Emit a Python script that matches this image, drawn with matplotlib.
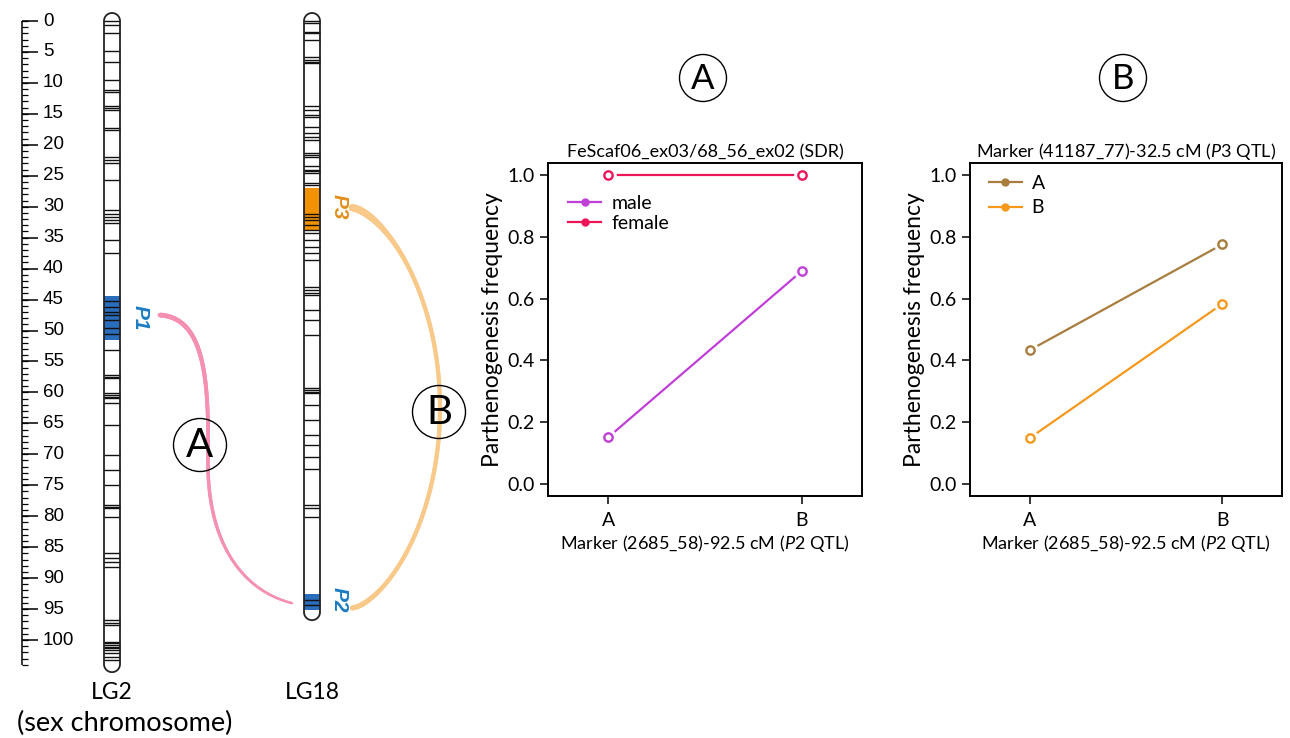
import numpy as np
import matplotlib
matplotlib.use("Agg")
import matplotlib.pyplot as plt
from matplotlib import patches
from matplotlib.collections import LineCollection
from matplotlib.lines import Line2D
from matplotlib.ticker import FormatStrFormatter

plt.rcParams['font.family'] = ['Lato', 'DejaVu Sans']
plt.rcParams['mathtext.fontset'] = 'custom'
plt.rcParams['mathtext.rm'] = 'Lato'
plt.rcParams['mathtext.it'] = 'Lato:italic'

# ---------------- data ----------------
lg2_markers = [0, 0.65, 2.0, 4.85, 6.57, 9.53, 11.15, 11.4, 13.8, 14.1, 14.4, 17.3, 17.6,
               21.9, 22.5, 23.0, 25.7, 30.5, 31.1, 31.6, 32.1, 32.7, 35.4, 37.4,
               45.3, 46.2, 47.0, 47.5, 48.3, 49.6, 50.5, 53.2,
               57.2, 57.5, 57.7, 60.1, 60.4, 60.7, 60.9, 61.7, 65.3, 70.1, 72.5, 75.0,
               78.2, 78.5, 78.7, 80.1, 86.0, 86.8, 87.4, 88.2, 96.8, 97.3, 97.6,
               100.3, 100.5, 100.8, 101.1, 101.3, 101.6, 102.1, 102.7, 103.2]
lg2_length = 103.9
lg2_p1 = (44.5, 51.5)

lg18_markers = [0, 0.38, 1.7, 2.0, 3.07, 5.77, 6.3, 6.57, 6.8, 13.8, 14.4, 15.2, 15.5,
                17.1, 18.1, 18.7, 19.2, 21.4, 21.6, 21.9, 23.5, 24.1, 24.3, 24.6, 26.2, 26.5,
                31.1, 31.6, 32.1, 33.0, 33.8, 34.3, 35.4, 36.5, 37.5, 38.6,
                42.9, 43.5, 44.0, 44.3, 46.7, 48.3, 50.7,
                59.3, 59.6, 59.9, 60.1, 62.0, 64.5, 66.9, 68.5, 70.4, 72.3,
                78.2, 78.7, 80.1, 93.5, 94.3]
lg18_length = 95.5
lg18_p3 = (27.0, 34.0)
lg18_p2 = (92.5, 95.2)

ruler_max = 104
ruler_labels = list(range(0, 101, 5))

genotypes = ["A", "B"]
male = [0.15, 0.69]
female = [1.0, 1.0]
p3_A = [0.433, 0.776]
p3_B = [0.148, 0.583]

# ---------------- colours ----------------
BLUE_FILL = '#2A6DBA'
ORANGE_FILL = '#F39200'
BLUE_TXT = '#1B7CC2'
ORANGE_TXT = '#E38F1E'
PINK = '#F590B3'
LORANGE = '#F9C98A'
C_MALE = '#C03FD6'
C_FEMALE = '#EE145A'
C_A = '#A87D3E'
C_B = '#F5981C'

W, H = 1290, 738
fig = plt.figure(figsize=(W / 100, H / 100), dpi=100)

# overlay (pixel coords) for top circles
axo = fig.add_axes([0, 0, 1, 1])
axo.set_xlim(0, W)
axo.set_ylim(H, 0)
axo.axis('off')

# chromosome axes: x in pixels, y in cM
PXCM = 6.19
Y0 = 21
axc = fig.add_axes([0, 0, 470 / W, 1])
axc.set_xlim(0, 470)
axc.set_ylim((H - Y0) / PXCM, -Y0 / PXCM)
axc.axis('off')

def cm(ypx):
    return (ypx - Y0) / PXCM

# ruler
axc.vlines(22, 0, ruler_max, color='black', lw=1.1)
axc.hlines(np.arange(0, ruler_max + 1), 22, 28, color='black', lw=0.9)
axc.hlines(ruler_labels, 22, 38, color='black', lw=1.1)
for v in ruler_labels:
    axc.text(43, v, str(v), ha='left', va='center', fontsize=13.5,
             family='Liberation Sans')

def chromosome(xc, length, markers, regions, w=16):
    r = w / 2
    hc = r / PXCM
    t = np.linspace(np.pi, 0, 40)
    pts = [(xc - r, 0), (xc - r, length)]
    pts += list(zip(xc + r * np.cos(t), length + hc * np.sin(t)))
    pts += [(xc + r, length), (xc + r, 0)]
    t2 = np.linspace(0, np.pi, 40)
    pts += list(zip(xc + r * np.cos(t2), -hc * np.sin(t2)))
    axc.add_patch(patches.Polygon(pts, closed=True, fc='white', ec='none', zorder=1))
    for (a, b), col in regions:
        axc.add_patch(patches.Rectangle((xc - r, a), w, b - a, fc=col, ec='none', zorder=2))
    axc.hlines(markers, xc - r, xc + r, color='#111111', lw=1.0, zorder=3)
    axc.add_patch(patches.Polygon(pts, closed=True, fill=False, ec='#222222', lw=1.3, zorder=4))

chromosome(112, lg2_length, lg2_markers, [(lg2_p1, BLUE_FILL)])
chromosome(312, lg18_length, lg18_markers, [(lg18_p3, ORANGE_FILL), (lg18_p2, BLUE_FILL)])

qkw = dict(rotation=-90, fontweight='bold', style='italic', ha='center', va='center',
           fontsize=15, family='Liberation Sans')
axc.text(140, np.mean(lg2_p1), 'P1', color=BLUE_TXT, **qkw)
axc.text(339, np.mean(lg18_p3) - 0.5, 'P3', color=ORANGE_TXT, **qkw)
axc.text(339, np.mean(lg18_p2) - 0.4, 'P2', color=BLUE_TXT, **qkw)

axc.text(112, cm(692), 'LG2', ha='center', va='center', fontsize=16.5)
axc.text(125, cm(723), '(sex chromosome)', ha='center', va='center', fontsize=19.5)
axc.text(312, cm(692), 'LG18', ha='center', va='center', fontsize=16.5)

def bezier(p0, p1, p2, p3, n=120):
    t = np.linspace(0, 1, n)[:, None]
    p0, p1, p2, p3 = map(np.array, (p0, p1, p2, p3))
    return (1 - t) ** 3 * p0 + 3 * (1 - t) ** 2 * t * p1 + 3 * (1 - t) * t ** 2 * p2 + t ** 3 * p3

def tapered(pts, widths_px, color):
    segs = np.stack([pts[:-1], pts[1:]], axis=1)
    lw = np.asarray(widths_px) / 1.389
    lc = LineCollection(segs, colors=color, linewidths=lw, capstyle='round', zorder=0.5)
    axc.add_collection(lc)

# pink link P1 -> P2
p1m = np.mean(lg2_p1) - 0.5
p2m = np.mean(lg18_p2) + 0.2
up = bezier((160, p1m), (205, p1m + 0.5), (209, 58.0), (208, 70.9))
lo = bezier((208, 70.9), (207, 83.8), (240, 91.9), (292, p2m))
pk = np.vstack([up, lo[1:]])
tt = np.linspace(0, 1, len(pk) - 1)
tapered(pk, 4.8 - 2.4 * tt, PINK)

# light orange link P3 -> P2
th = np.linspace(-np.pi / 2, np.pi / 2, 240)
cy = 62.5
by = cm(608) - cy
ox = 352 + 88 * np.cos(th) ** 1.3
oy = cy + by * np.sin(th)
op = np.column_stack([ox, oy])
tt = np.linspace(0, 1, len(op) - 1)
wo = 4.2 + 3.0 * np.exp(-((tt - 0.04) / 0.12) ** 2) + 0.8 * np.exp(-((tt - 0.95) / 0.08) ** 2)
tapered(op, wo, LORANGE)

# circle labels on the map
for (cx, cyp, lab) in [(200, 445, 'A'), (439, 412, 'B')]:
    axc.add_patch(patches.Ellipse((cx, cm(cyp)), 53, 53 / PXCM, fc='none', ec='black',
                                  lw=1.0, zorder=5))
    axc.text(cx, cm(cyp), lab, ha='center', va='center', fontsize=29, zorder=6)

# top circles
for (cx, cyp, lab) in [(703, 78, 'A'), (1123, 78, 'B')]:
    axo.add_patch(patches.Circle((cx, cyp), 23.5, fc='none', ec='black', lw=1.0))
    axo.text(cx, cyp + 1, lab, ha='center', va='center', fontsize=25)

# ---------------- interaction plots ----------------
def make_ax(left, right, top=163, bottom=496):
    return fig.add_axes([left / W, 1 - bottom / H, (right - left) / W, (bottom - top) / H])

xs = [1, 2]

def series(ax, y, color, label):
    ax.plot(xs, y, color=color, lw=1.6, zorder=2)
    ax.plot(xs, y, ls='none', marker='o', ms=12, mfc='white', mec='none', zorder=3)
    ax.plot(xs, y, ls='none', marker='o', ms=6, mfc='white', mec=color, mew=1.7, zorder=4)
    return Line2D([], [], color=color, lw=1.6, marker='o', ms=5, mfc=color, mec=color,
                  label=label)

def style(ax, title):
    ax.set_xlim(0.69, 2.31)
    ax.set_ylim(-0.04, 1.04)
    ax.set_xticks(xs, genotypes)
    ax.set_yticks(np.arange(0, 1.01, 0.2))
    ax.yaxis.set_major_formatter(FormatStrFormatter('%.1f'))
    ax.tick_params(direction='out', length=5.5, width=1.1, labelsize=14, pad=4)
    ax.tick_params(axis='x', pad=6)
    for s in ax.spines.values():
        s.set_linewidth(1.4)
    ax.set_title(title, fontsize=13, pad=4)
    ax.set_xlabel(r'Marker (2685_58)-92.5 cM ($\mathit{P2}$ QTL)', fontsize=13, labelpad=3)
    ax.set_ylabel('Parthenogenesis frequency', fontsize=16.5, labelpad=3)

lkw = dict(loc='upper left', frameon=False, fontsize=14, handlelength=1.7,
           handletextpad=0.5, borderpad=0, borderaxespad=0)

ax1 = make_ax(548, 862)
h1 = series(ax1, male, C_MALE, 'male')
h2 = series(ax1, female, C_FEMALE, 'female')
style(ax1, 'FeScaf06_ex03/68_56_ex02 (SDR)')
ax1.legend(handles=[h1, h2], bbox_to_anchor=(0.065, 0.905), labelspacing=0.15, **lkw)

ax2 = make_ax(970, 1282)
h3 = series(ax2, p3_A, C_A, 'A')
h4 = series(ax2, p3_B, C_B, 'B')
style(ax2, r'Marker (41187_77)-32.5 cM ($\mathit{P3}$ QTL)')
ax2.legend(handles=[h3, h4], bbox_to_anchor=(0.06, 0.965), labelspacing=0.4, **lkw)

fig.savefig('out.png', dpi=100)
